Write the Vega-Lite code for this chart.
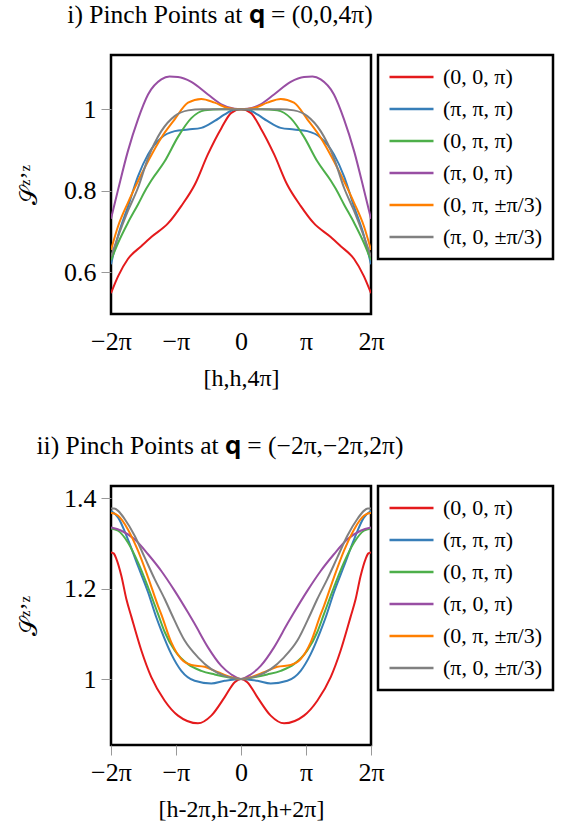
{
"$schema": "https://vega.github.io/schema/vega-lite/v6.json",
"padding": {"left": 16, "top": 2, "right": 5, "bottom": 5},
"config": {
  "font": "Liberation Serif",
  "view": {"stroke": "black", "strokeWidth": 2.5},
  "axis": {"grid": false, "domain": false, "labelFlush": false, "labelFont": "Liberation Serif", "labelFontSize": 26, "labelColor": "black", "titleFont": "Liberation Serif", "titleFontSize": 24, "titleFontWeight": "normal", "titleColor": "black", "tickColor": "#999999", "tickSize": 10},
  "axisX": {"labelPadding": 4, "titlePadding": 12},
  "axisY": {"labelPadding": 5, "titlePadding": 22},
  "legend": {"strokeColor": "black", "strokeWidth": 2.5, "padding": 10, "symbolType": "stroke", "symbolSize": 1936, "symbolStrokeWidth": 2.5, "labelFontSize": 22, "labelFont": "Liberation Serif", "labelColor": "black", "labelOffset": 8, "clipHeight": 24, "rowPadding": 8, "offset": 7, "fillColor": "white"},
  "title": {"font": "Liberation Serif", "fontSize": 25.5, "fontWeight": "normal", "color": "black", "anchor": "middle", "frame": "group", "dx": -21, "offset": 25},
  "concat": {"spacing": 41}
},
"resolve": {"scale": {"color": "independent"}, "legend": {"color": "independent"}},
"datasets": {"d": [
{"p":1,"s":"(0, 0, π)","x":-2,"y":0.548},{"p":1,"s":"(0, 0, π)","x":-1.89,"y":0.59},{"p":1,"s":"(0, 0, π)","x":-1.74,"y":0.632},{"p":1,"s":"(0, 0, π)","x":-1.53,"y":0.664},{"p":1,"s":"(0, 0, π)","x":-1.38,"y":0.686},{"p":1,"s":"(0, 0, π)","x":-1.12,"y":0.72},{"p":1,"s":"(0, 0, π)","x":-0.92,"y":0.762},{"p":1,"s":"(0, 0, π)","x":-0.71,"y":0.815},{"p":1,"s":"(0, 0, π)","x":-0.51,"y":0.889},{"p":1,"s":"(0, 0, π)","x":-0.3,"y":0.954},{"p":1,"s":"(0, 0, π)","x":-0.15,"y":0.991},{"p":1,"s":"(0, 0, π)","x":0,"y":1.0},{"p":1,"s":"(0, 0, π)","x":0.15,"y":0.991},{"p":1,"s":"(0, 0, π)","x":0.3,"y":0.954},{"p":1,"s":"(0, 0, π)","x":0.51,"y":0.889},{"p":1,"s":"(0, 0, π)","x":0.71,"y":0.815},{"p":1,"s":"(0, 0, π)","x":0.92,"y":0.762},{"p":1,"s":"(0, 0, π)","x":1.12,"y":0.72},{"p":1,"s":"(0, 0, π)","x":1.38,"y":0.686},{"p":1,"s":"(0, 0, π)","x":1.53,"y":0.664},{"p":1,"s":"(0, 0, π)","x":1.74,"y":0.632},{"p":1,"s":"(0, 0, π)","x":1.89,"y":0.59},{"p":1,"s":"(0, 0, π)","x":2,"y":0.548},
{"p":1,"s":"(π, π, π)","x":-2,"y":0.619},{"p":1,"s":"(π, π, π)","x":-1.89,"y":0.69},{"p":1,"s":"(π, π, π)","x":-1.74,"y":0.76},{"p":1,"s":"(π, π, π)","x":-1.585,"y":0.835},{"p":1,"s":"(π, π, π)","x":-1.43,"y":0.889},{"p":1,"s":"(π, π, π)","x":-1.226,"y":0.93},{"p":1,"s":"(π, π, π)","x":-1.02,"y":0.946},{"p":1,"s":"(π, π, π)","x":-0.815,"y":0.95},{"p":1,"s":"(π, π, π)","x":-0.611,"y":0.954},{"p":1,"s":"(π, π, π)","x":-0.405,"y":0.971},{"p":1,"s":"(π, π, π)","x":-0.25,"y":0.987},{"p":1,"s":"(π, π, π)","x":-0.1,"y":0.999},{"p":1,"s":"(π, π, π)","x":0,"y":1.0},{"p":1,"s":"(π, π, π)","x":0.1,"y":0.999},{"p":1,"s":"(π, π, π)","x":0.25,"y":0.987},{"p":1,"s":"(π, π, π)","x":0.405,"y":0.971},{"p":1,"s":"(π, π, π)","x":0.611,"y":0.954},{"p":1,"s":"(π, π, π)","x":0.815,"y":0.95},{"p":1,"s":"(π, π, π)","x":1.02,"y":0.946},{"p":1,"s":"(π, π, π)","x":1.226,"y":0.93},{"p":1,"s":"(π, π, π)","x":1.43,"y":0.889},{"p":1,"s":"(π, π, π)","x":1.585,"y":0.835},{"p":1,"s":"(π, π, π)","x":1.74,"y":0.76},{"p":1,"s":"(π, π, π)","x":1.89,"y":0.69},{"p":1,"s":"(π, π, π)","x":2,"y":0.619},
{"p":1,"s":"(0, π, π)","x":-2,"y":0.629},{"p":1,"s":"(0, π, π)","x":-1.89,"y":0.672},{"p":1,"s":"(0, π, π)","x":-1.74,"y":0.721},{"p":1,"s":"(0, π, π)","x":-1.585,"y":0.766},{"p":1,"s":"(0, π, π)","x":-1.456,"y":0.805},{"p":1,"s":"(0, π, π)","x":-1.38,"y":0.825},{"p":1,"s":"(0, π, π)","x":-1.174,"y":0.872},{"p":1,"s":"(0, π, π)","x":-0.969,"y":0.932},{"p":1,"s":"(0, π, π)","x":-0.764,"y":0.978},{"p":1,"s":"(0, π, π)","x":-0.559,"y":0.997},{"p":1,"s":"(0, π, π)","x":-0.3,"y":1.0},{"p":1,"s":"(0, π, π)","x":0,"y":1.0},{"p":1,"s":"(0, π, π)","x":0.3,"y":1.0},{"p":1,"s":"(0, π, π)","x":0.559,"y":0.997},{"p":1,"s":"(0, π, π)","x":0.764,"y":0.978},{"p":1,"s":"(0, π, π)","x":0.969,"y":0.932},{"p":1,"s":"(0, π, π)","x":1.174,"y":0.872},{"p":1,"s":"(0, π, π)","x":1.38,"y":0.825},{"p":1,"s":"(0, π, π)","x":1.456,"y":0.805},{"p":1,"s":"(0, π, π)","x":1.585,"y":0.766},{"p":1,"s":"(0, π, π)","x":1.74,"y":0.721},{"p":1,"s":"(0, π, π)","x":1.89,"y":0.672},{"p":1,"s":"(0, π, π)","x":2,"y":0.629},
{"p":1,"s":"(π, 0, π)","x":-2,"y":0.731},{"p":1,"s":"(π, 0, π)","x":-1.89,"y":0.803},{"p":1,"s":"(π, 0, π)","x":-1.74,"y":0.897},{"p":1,"s":"(π, 0, π)","x":-1.585,"y":0.975},{"p":1,"s":"(π, 0, π)","x":-1.43,"y":1.036},{"p":1,"s":"(π, 0, π)","x":-1.226,"y":1.073},{"p":1,"s":"(π, 0, π)","x":-1.1,"y":1.08},{"p":1,"s":"(π, 0, π)","x":-0.97,"y":1.079},{"p":1,"s":"(π, 0, π)","x":-0.764,"y":1.067},{"p":1,"s":"(π, 0, π)","x":-0.508,"y":1.036},{"p":1,"s":"(π, 0, π)","x":-0.303,"y":1.012},{"p":1,"s":"(π, 0, π)","x":-0.1,"y":1.001},{"p":1,"s":"(π, 0, π)","x":0,"y":1.0},{"p":1,"s":"(π, 0, π)","x":0.1,"y":1.001},{"p":1,"s":"(π, 0, π)","x":0.303,"y":1.012},{"p":1,"s":"(π, 0, π)","x":0.508,"y":1.036},{"p":1,"s":"(π, 0, π)","x":0.764,"y":1.067},{"p":1,"s":"(π, 0, π)","x":0.97,"y":1.079},{"p":1,"s":"(π, 0, π)","x":1.1,"y":1.08},{"p":1,"s":"(π, 0, π)","x":1.226,"y":1.073},{"p":1,"s":"(π, 0, π)","x":1.43,"y":1.036},{"p":1,"s":"(π, 0, π)","x":1.585,"y":0.975},{"p":1,"s":"(π, 0, π)","x":1.74,"y":0.897},{"p":1,"s":"(π, 0, π)","x":1.89,"y":0.803},{"p":1,"s":"(π, 0, π)","x":2,"y":0.731},
{"p":1,"s":"(0, π, ±π/3)","x":-2,"y":0.654},{"p":1,"s":"(0, π, ±π/3)","x":-1.89,"y":0.713},{"p":1,"s":"(0, π, ±π/3)","x":-1.74,"y":0.77},{"p":1,"s":"(0, π, ±π/3)","x":-1.636,"y":0.806},{"p":1,"s":"(0, π, ±π/3)","x":-1.43,"y":0.872},{"p":1,"s":"(0, π, ±π/3)","x":-1.226,"y":0.93},{"p":1,"s":"(0, π, ±π/3)","x":-1.02,"y":0.975},{"p":1,"s":"(0, π, ±π/3)","x":-0.815,"y":1.016},{"p":1,"s":"(0, π, ±π/3)","x":-0.611,"y":1.025},{"p":1,"s":"(0, π, ±π/3)","x":-0.405,"y":1.016},{"p":1,"s":"(0, π, ±π/3)","x":-0.2,"y":1.003},{"p":1,"s":"(0, π, ±π/3)","x":0,"y":1.0},{"p":1,"s":"(0, π, ±π/3)","x":0.2,"y":1.003},{"p":1,"s":"(0, π, ±π/3)","x":0.405,"y":1.016},{"p":1,"s":"(0, π, ±π/3)","x":0.611,"y":1.025},{"p":1,"s":"(0, π, ±π/3)","x":0.815,"y":1.016},{"p":1,"s":"(0, π, ±π/3)","x":1.02,"y":0.975},{"p":1,"s":"(0, π, ±π/3)","x":1.226,"y":0.93},{"p":1,"s":"(0, π, ±π/3)","x":1.43,"y":0.872},{"p":1,"s":"(0, π, ±π/3)","x":1.636,"y":0.806},{"p":1,"s":"(0, π, ±π/3)","x":1.74,"y":0.77},{"p":1,"s":"(0, π, ±π/3)","x":1.89,"y":0.713},{"p":1,"s":"(0, π, ±π/3)","x":2,"y":0.654},
{"p":1,"s":"(π, 0, ±π/3)","x":-2,"y":0.638},{"p":1,"s":"(π, 0, ±π/3)","x":-1.89,"y":0.688},{"p":1,"s":"(π, 0, ±π/3)","x":-1.74,"y":0.75},{"p":1,"s":"(π, 0, ±π/3)","x":-1.585,"y":0.807},{"p":1,"s":"(π, 0, ±π/3)","x":-1.43,"y":0.88},{"p":1,"s":"(π, 0, ±π/3)","x":-1.226,"y":0.946},{"p":1,"s":"(π, 0, ±π/3)","x":-1.02,"y":0.983},{"p":1,"s":"(π, 0, ±π/3)","x":-0.815,"y":0.997},{"p":1,"s":"(π, 0, ±π/3)","x":-0.6,"y":1.0},{"p":1,"s":"(π, 0, ±π/3)","x":-0.3,"y":1.0},{"p":1,"s":"(π, 0, ±π/3)","x":0,"y":1.0},{"p":1,"s":"(π, 0, ±π/3)","x":0.3,"y":1.0},{"p":1,"s":"(π, 0, ±π/3)","x":0.6,"y":1.0},{"p":1,"s":"(π, 0, ±π/3)","x":0.815,"y":0.997},{"p":1,"s":"(π, 0, ±π/3)","x":1.02,"y":0.983},{"p":1,"s":"(π, 0, ±π/3)","x":1.226,"y":0.946},{"p":1,"s":"(π, 0, ±π/3)","x":1.43,"y":0.88},{"p":1,"s":"(π, 0, ±π/3)","x":1.585,"y":0.807},{"p":1,"s":"(π, 0, ±π/3)","x":1.74,"y":0.75},{"p":1,"s":"(π, 0, ±π/3)","x":1.89,"y":0.688},{"p":1,"s":"(π, 0, ±π/3)","x":2,"y":0.638},
{"p":2,"s":"(0, 0, π)","x":-2,"y":1.28},{"p":2,"s":"(0, 0, π)","x":-1.96,"y":1.278},{"p":2,"s":"(0, 0, π)","x":-1.918,"y":1.266},{"p":2,"s":"(0, 0, π)","x":-1.84,"y":1.228},{"p":2,"s":"(0, 0, π)","x":-1.764,"y":1.177},{"p":2,"s":"(0, 0, π)","x":-1.687,"y":1.138},{"p":2,"s":"(0, 0, π)","x":-1.533,"y":1.063},{"p":2,"s":"(0, 0, π)","x":-1.38,"y":1.004},{"p":2,"s":"(0, 0, π)","x":-1.174,"y":0.952},{"p":2,"s":"(0, 0, π)","x":-0.969,"y":0.919},{"p":2,"s":"(0, 0, π)","x":-0.662,"y":0.902},{"p":2,"s":"(0, 0, π)","x":-0.457,"y":0.919},{"p":2,"s":"(0, 0, π)","x":-0.251,"y":0.96},{"p":2,"s":"(0, 0, π)","x":-0.097,"y":0.993},{"p":2,"s":"(0, 0, π)","x":0,"y":1.0},{"p":2,"s":"(0, 0, π)","x":0.097,"y":0.993},{"p":2,"s":"(0, 0, π)","x":0.251,"y":0.96},{"p":2,"s":"(0, 0, π)","x":0.457,"y":0.919},{"p":2,"s":"(0, 0, π)","x":0.662,"y":0.902},{"p":2,"s":"(0, 0, π)","x":0.969,"y":0.919},{"p":2,"s":"(0, 0, π)","x":1.174,"y":0.952},{"p":2,"s":"(0, 0, π)","x":1.38,"y":1.004},{"p":2,"s":"(0, 0, π)","x":1.533,"y":1.063},{"p":2,"s":"(0, 0, π)","x":1.687,"y":1.138},{"p":2,"s":"(0, 0, π)","x":1.764,"y":1.177},{"p":2,"s":"(0, 0, π)","x":1.84,"y":1.228},{"p":2,"s":"(0, 0, π)","x":1.918,"y":1.266},{"p":2,"s":"(0, 0, π)","x":1.96,"y":1.278},{"p":2,"s":"(0, 0, π)","x":2,"y":1.28},
{"p":2,"s":"(π, π, π)","x":-2,"y":1.372},{"p":2,"s":"(π, π, π)","x":-1.89,"y":1.357},{"p":2,"s":"(π, π, π)","x":-1.74,"y":1.309},{"p":2,"s":"(π, π, π)","x":-1.585,"y":1.25},{"p":2,"s":"(π, π, π)","x":-1.43,"y":1.192},{"p":2,"s":"(π, π, π)","x":-1.302,"y":1.136},{"p":2,"s":"(π, π, π)","x":-1.226,"y":1.107},{"p":2,"s":"(π, π, π)","x":-1.072,"y":1.055},{"p":2,"s":"(π, π, π)","x":-0.918,"y":1.018},{"p":2,"s":"(π, π, π)","x":-0.713,"y":0.996},{"p":2,"s":"(π, π, π)","x":-0.457,"y":0.99},{"p":2,"s":"(π, π, π)","x":-0.251,"y":0.996},{"p":2,"s":"(π, π, π)","x":0,"y":1.0},{"p":2,"s":"(π, π, π)","x":0.251,"y":0.996},{"p":2,"s":"(π, π, π)","x":0.457,"y":0.99},{"p":2,"s":"(π, π, π)","x":0.713,"y":0.996},{"p":2,"s":"(π, π, π)","x":0.918,"y":1.018},{"p":2,"s":"(π, π, π)","x":1.072,"y":1.055},{"p":2,"s":"(π, π, π)","x":1.226,"y":1.107},{"p":2,"s":"(π, π, π)","x":1.302,"y":1.136},{"p":2,"s":"(π, π, π)","x":1.43,"y":1.192},{"p":2,"s":"(π, π, π)","x":1.585,"y":1.25},{"p":2,"s":"(π, π, π)","x":1.74,"y":1.309},{"p":2,"s":"(π, π, π)","x":1.89,"y":1.357},{"p":2,"s":"(π, π, π)","x":2,"y":1.372},
{"p":2,"s":"(0, π, π)","x":-2,"y":1.333},{"p":2,"s":"(0, π, π)","x":-1.89,"y":1.328},{"p":2,"s":"(0, π, π)","x":-1.74,"y":1.302},{"p":2,"s":"(0, π, π)","x":-1.585,"y":1.258},{"p":2,"s":"(0, π, π)","x":-1.43,"y":1.203},{"p":2,"s":"(0, π, π)","x":-1.277,"y":1.144},{"p":2,"s":"(0, π, π)","x":-1.174,"y":1.104},{"p":2,"s":"(0, π, π)","x":-1.02,"y":1.063},{"p":2,"s":"(0, π, π)","x":-0.815,"y":1.033},{"p":2,"s":"(0, π, π)","x":-0.611,"y":1.018},{"p":2,"s":"(0, π, π)","x":-0.405,"y":1.01},{"p":2,"s":"(0, π, π)","x":-0.2,"y":1.004},{"p":2,"s":"(0, π, π)","x":0,"y":1.0},{"p":2,"s":"(0, π, π)","x":0.2,"y":1.004},{"p":2,"s":"(0, π, π)","x":0.405,"y":1.01},{"p":2,"s":"(0, π, π)","x":0.611,"y":1.018},{"p":2,"s":"(0, π, π)","x":0.815,"y":1.033},{"p":2,"s":"(0, π, π)","x":1.02,"y":1.063},{"p":2,"s":"(0, π, π)","x":1.174,"y":1.104},{"p":2,"s":"(0, π, π)","x":1.277,"y":1.144},{"p":2,"s":"(0, π, π)","x":1.43,"y":1.203},{"p":2,"s":"(0, π, π)","x":1.585,"y":1.258},{"p":2,"s":"(0, π, π)","x":1.74,"y":1.302},{"p":2,"s":"(0, π, π)","x":1.89,"y":1.328},{"p":2,"s":"(0, π, π)","x":2,"y":1.333},
{"p":2,"s":"(π, 0, π)","x":-2,"y":1.335},{"p":2,"s":"(π, 0, π)","x":-1.84,"y":1.328},{"p":2,"s":"(π, 0, π)","x":-1.636,"y":1.309},{"p":2,"s":"(π, 0, π)","x":-1.43,"y":1.276},{"p":2,"s":"(π, 0, π)","x":-1.226,"y":1.239},{"p":2,"s":"(π, 0, π)","x":-1.02,"y":1.195},{"p":2,"s":"(π, 0, π)","x":-0.815,"y":1.147},{"p":2,"s":"(π, 0, π)","x":-0.713,"y":1.122},{"p":2,"s":"(π, 0, π)","x":-0.508,"y":1.07},{"p":2,"s":"(π, 0, π)","x":-0.303,"y":1.029},{"p":2,"s":"(π, 0, π)","x":-0.149,"y":1.01},{"p":2,"s":"(π, 0, π)","x":0,"y":1.0},{"p":2,"s":"(π, 0, π)","x":0.149,"y":1.01},{"p":2,"s":"(π, 0, π)","x":0.303,"y":1.029},{"p":2,"s":"(π, 0, π)","x":0.508,"y":1.07},{"p":2,"s":"(π, 0, π)","x":0.713,"y":1.122},{"p":2,"s":"(π, 0, π)","x":0.815,"y":1.147},{"p":2,"s":"(π, 0, π)","x":1.02,"y":1.195},{"p":2,"s":"(π, 0, π)","x":1.226,"y":1.239},{"p":2,"s":"(π, 0, π)","x":1.43,"y":1.276},{"p":2,"s":"(π, 0, π)","x":1.636,"y":1.309},{"p":2,"s":"(π, 0, π)","x":1.84,"y":1.328},{"p":2,"s":"(π, 0, π)","x":2,"y":1.335},
{"p":2,"s":"(0, π, ±π/3)","x":-2,"y":1.367},{"p":2,"s":"(0, π, ±π/3)","x":-1.95,"y":1.366},{"p":2,"s":"(0, π, ±π/3)","x":-1.89,"y":1.361},{"p":2,"s":"(0, π, ±π/3)","x":-1.74,"y":1.331},{"p":2,"s":"(0, π, ±π/3)","x":-1.585,"y":1.284},{"p":2,"s":"(0, π, ±π/3)","x":-1.43,"y":1.225},{"p":2,"s":"(0, π, ±π/3)","x":-1.277,"y":1.162},{"p":2,"s":"(0, π, ±π/3)","x":-1.226,"y":1.143},{"p":2,"s":"(0, π, ±π/3)","x":-1.072,"y":1.081},{"p":2,"s":"(0, π, ±π/3)","x":-0.918,"y":1.044},{"p":2,"s":"(0, π, ±π/3)","x":-0.764,"y":1.031},{"p":2,"s":"(0, π, ±π/3)","x":-0.559,"y":1.027},{"p":2,"s":"(0, π, ±π/3)","x":-0.354,"y":1.015},{"p":2,"s":"(0, π, ±π/3)","x":-0.149,"y":1.004},{"p":2,"s":"(0, π, ±π/3)","x":0,"y":1.0},{"p":2,"s":"(0, π, ±π/3)","x":0.149,"y":1.004},{"p":2,"s":"(0, π, ±π/3)","x":0.354,"y":1.015},{"p":2,"s":"(0, π, ±π/3)","x":0.559,"y":1.027},{"p":2,"s":"(0, π, ±π/3)","x":0.764,"y":1.031},{"p":2,"s":"(0, π, ±π/3)","x":0.918,"y":1.044},{"p":2,"s":"(0, π, ±π/3)","x":1.072,"y":1.081},{"p":2,"s":"(0, π, ±π/3)","x":1.226,"y":1.143},{"p":2,"s":"(0, π, ±π/3)","x":1.277,"y":1.162},{"p":2,"s":"(0, π, ±π/3)","x":1.43,"y":1.225},{"p":2,"s":"(0, π, ±π/3)","x":1.585,"y":1.284},{"p":2,"s":"(0, π, ±π/3)","x":1.74,"y":1.331},{"p":2,"s":"(0, π, ±π/3)","x":1.89,"y":1.361},{"p":2,"s":"(0, π, ±π/3)","x":1.95,"y":1.366},{"p":2,"s":"(0, π, ±π/3)","x":2,"y":1.367},
{"p":2,"s":"(π, 0, ±π/3)","x":-2,"y":1.377},{"p":2,"s":"(π, 0, ±π/3)","x":-1.95,"y":1.377},{"p":2,"s":"(π, 0, ±π/3)","x":-1.89,"y":1.372},{"p":2,"s":"(π, 0, ±π/3)","x":-1.79,"y":1.354},{"p":2,"s":"(π, 0, ±π/3)","x":-1.636,"y":1.317},{"p":2,"s":"(π, 0, ±π/3)","x":-1.482,"y":1.269},{"p":2,"s":"(π, 0, ±π/3)","x":-1.328,"y":1.221},{"p":2,"s":"(π, 0, ±π/3)","x":-1.174,"y":1.177},{"p":2,"s":"(π, 0, ±π/3)","x":-1.072,"y":1.145},{"p":2,"s":"(π, 0, ±π/3)","x":-0.867,"y":1.085},{"p":2,"s":"(π, 0, ±π/3)","x":-0.662,"y":1.048},{"p":2,"s":"(π, 0, ±π/3)","x":-0.457,"y":1.022},{"p":2,"s":"(π, 0, ±π/3)","x":-0.251,"y":1.007},{"p":2,"s":"(π, 0, ±π/3)","x":0,"y":1.0},{"p":2,"s":"(π, 0, ±π/3)","x":0.251,"y":1.007},{"p":2,"s":"(π, 0, ±π/3)","x":0.457,"y":1.022},{"p":2,"s":"(π, 0, ±π/3)","x":0.662,"y":1.048},{"p":2,"s":"(π, 0, ±π/3)","x":0.867,"y":1.085},{"p":2,"s":"(π, 0, ±π/3)","x":1.072,"y":1.145},{"p":2,"s":"(π, 0, ±π/3)","x":1.174,"y":1.177},{"p":2,"s":"(π, 0, ±π/3)","x":1.328,"y":1.221},{"p":2,"s":"(π, 0, ±π/3)","x":1.482,"y":1.269},{"p":2,"s":"(π, 0, ±π/3)","x":1.636,"y":1.317},{"p":2,"s":"(π, 0, ±π/3)","x":1.79,"y":1.354},{"p":2,"s":"(π, 0, ±π/3)","x":1.89,"y":1.372},{"p":2,"s":"(π, 0, ±π/3)","x":1.95,"y":1.377},{"p":2,"s":"(π, 0, ±π/3)","x":2,"y":1.377}
]},
"vconcat": [
{
  "title": "i) Pinch Points at 𝐪 = (0,0,4π)",
  "width": 260, "height": 259,
  "data": {"name": "d"},
  "transform": [{"filter": "datum.p == 1"}],
  "mark": {"type": "line", "strokeWidth": 2, "interpolate": "monotone", "clip": true},
  "encoding": {
    "x": {"field": "x", "type": "quantitative", "scale": {"domain": [-2, 2], "nice": false}, "axis": {"values": [-2, -1, 0, 1, 2], "labelExpr": "datum.value == -2 ? '−2π' : datum.value == -1 ? '−π' : datum.value == 0 ? '0' : datum.value == 1 ? 'π' : '2π'", "title": "[h,h,4π]", "tickOpacity": 0}},
    "y": {"field": "y", "type": "quantitative", "scale": {"domain": [0.497, 1.133], "nice": false, "zero": false}, "axis": {"values": [0.6, 0.8, 1], "format": "~g", "title": "𝒮ᶻʼᶻ"}},
    "color": {"field": "s", "type": "nominal", "scale": {"domain": ["(0, 0, π)", "(π, π, π)", "(0, π, π)", "(π, 0, π)", "(0, π, ±π/3)", "(π, 0, ±π/3)"], "range": ["#e41a1c", "#377eb8", "#4daf4a", "#984ea3", "#ff7f00", "#808080"]}, "legend": {"title": null}}
  }
},
{
  "title": "ii) Pinch Points at 𝐪 = (−2π,−2π,2π)",
  "width": 260, "height": 259,
  "data": {"name": "d"},
  "transform": [{"filter": "datum.p == 2"}],
  "mark": {"type": "line", "strokeWidth": 2, "interpolate": "monotone", "clip": true},
  "encoding": {
    "x": {"field": "x", "type": "quantitative", "scale": {"domain": [-2, 2], "nice": false}, "axis": {"values": [-2, -1, 0, 1, 2], "labelExpr": "datum.value == -2 ? '−2π' : datum.value == -1 ? '−π' : datum.value == 0 ? '0' : datum.value == 1 ? 'π' : '2π'", "title": "[h-2π,h-2π,h+2π]"}},
    "y": {"field": "y", "type": "quantitative", "scale": {"domain": [0.854, 1.427], "nice": false, "zero": false}, "axis": {"values": [1, 1.2, 1.4], "format": "~g", "title": "𝒮ᶻʼᶻ"}},
    "color": {"field": "s", "type": "nominal", "scale": {"domain": ["(0, 0, π)", "(π, π, π)", "(0, π, π)", "(π, 0, π)", "(0, π, ±π/3)", "(π, 0, ±π/3)"], "range": ["#e41a1c", "#377eb8", "#4daf4a", "#984ea3", "#ff7f00", "#808080"]}, "legend": {"title": null}}
  }
}
]
}
